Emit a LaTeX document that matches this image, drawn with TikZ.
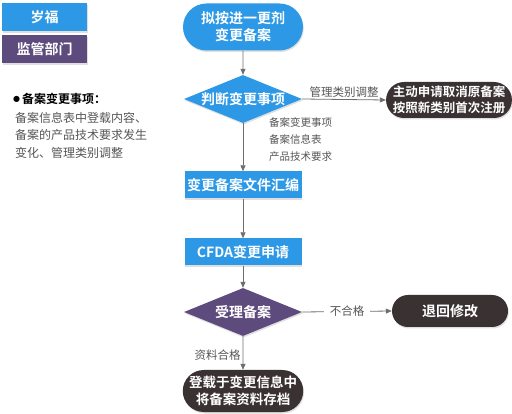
\documentclass[tikz,border=0pt]{standalone}
\usepackage{fontspec}
\setmainfont{Noto Sans CJK SC}
\newfontfamily\cjkb{Noto Sans CJK SC Bold}
\newfontfamily\djv{DejaVu Sans}
\usetikzlibrary{shapes.geometric,shapes.misc,arrows.meta,shadows}
\definecolor{cblue}{HTML}{2C98E6}
\definecolor{cpurple}{HTML}{5E4B7E}
\definecolor{cdark}{HTML}{3A3133}
\definecolor{cline}{HTML}{6E6E6E}
\definecolor{ctext}{HTML}{555555}
\tikzset{
  shd/.style={drop shadow={opacity=0.25,shadow xshift=0.8pt,shadow yshift=-1.5pt}},
  lbl/.style={font=\cjkb\fontsize{14}{17}\selectfont, text=white, align=center, inner sep=0pt},
  bluebox/.style={lbl, fill=cblue, minimum width=117pt, minimum height=27pt, shd},
  stadium/.style={lbl, rounded rectangle, minimum height=47pt, shd},
  diam/.style={lbl, diamond, aspect=2.45, minimum width=118pt, minimum height=48pt, shd},
  conn/.style={draw=cline, line width=0.8pt, -{Triangle[length=6pt,width=5pt]}},
  small/.style={font=\fontsize{11.5}{13}\selectfont, text=ctext, inner sep=1pt},
  notetxt/.style={anchor=west, inner sep=0pt, font=\fontsize{12}{14}\selectfont, text=ctext},
}
\begin{document}
\begin{tikzpicture}[x=1pt,y=-1pt]
\useasboundingbox (0,0) rectangle (512,414);
% legend
\node[lbl, fill=cblue, minimum width=85pt, minimum height=28pt, anchor=north west, shd] (leg1) at (2,3) {岁福};
\node[lbl, fill=cpurple, minimum width=85pt, minimum height=28pt, anchor=north west, shd] (leg2) at (2,35) {监管部门};
% left note
\node[notetxt, text=black] (note0) at (13,99) {\raisebox{2.5pt}{\djv\fontsize{8}{10}\selectfont ●}\,{\cjkb 备案变更事项：}};
\node[notetxt] (note1) at (15,118) {备案信息表中登载内容、};
\node[notetxt] (note2) at (15,135) {备案的产品技术要求发生};
\node[notetxt] (note3) at (15,153) {变化、管理类别调整};
% flow
\node[stadium, fill=cblue, minimum width=120pt] (start) at (243,27) {拟按进一更剂\\变更备案};
\node[diam, fill=cblue] (d1) at (243,99) {判断变更事项};
\node[lbl, rounded rectangle, fill=cdark, minimum width=118pt, minimum height=36pt, shd, font=\cjkb\fontsize{12.5}{16}\selectfont] (r1) at (449,100) {主动申请取消原备案\\按照新类别首次注册};
\node[bluebox] (b1) at (243,185) {变更备案文件汇编};
\node[bluebox] (b2) at (243,252) {CFDA变更申请};
\node[diam, fill=cpurple] (d2) at (243,312) {受理备案};
\node[lbl, rounded rectangle, fill=cdark, minimum width=116pt, minimum height=32pt, shd] (r2) at (450,311) {退回修改};
\node[stadium, fill=cdark, minimum width=119pt, minimum height=42pt, font=\cjkb\fontsize{13.5}{17}\selectfont] (end) at (243,391) {登载于变更信息中\\将备案资料存档};
% connectors
\draw[conn] (start) -- (d1);
\draw[conn] (d1.east) -- (r1.west) node[small, midway, above=1pt] {管理类别调整};
\draw[conn] (d1) -- (b1);
\node[small, anchor=north west, align=left, font=\fontsize{10.5}{17}\selectfont] (info) at (268,116) {备案变更事项\\备案信息表\\产品技术要求};
\draw[conn] (b1) -- (b2);
\draw[conn] (b2) -- (d2);
\draw[conn] (d2.east) -- (r2.west) node[small, midway, fill=white, inner xsep=6pt] {不合格};
\draw[conn] (d2) -- (end) node[small, midway, left=1pt, yshift=-2pt] {资料合格};
\end{tikzpicture}
\end{document}
